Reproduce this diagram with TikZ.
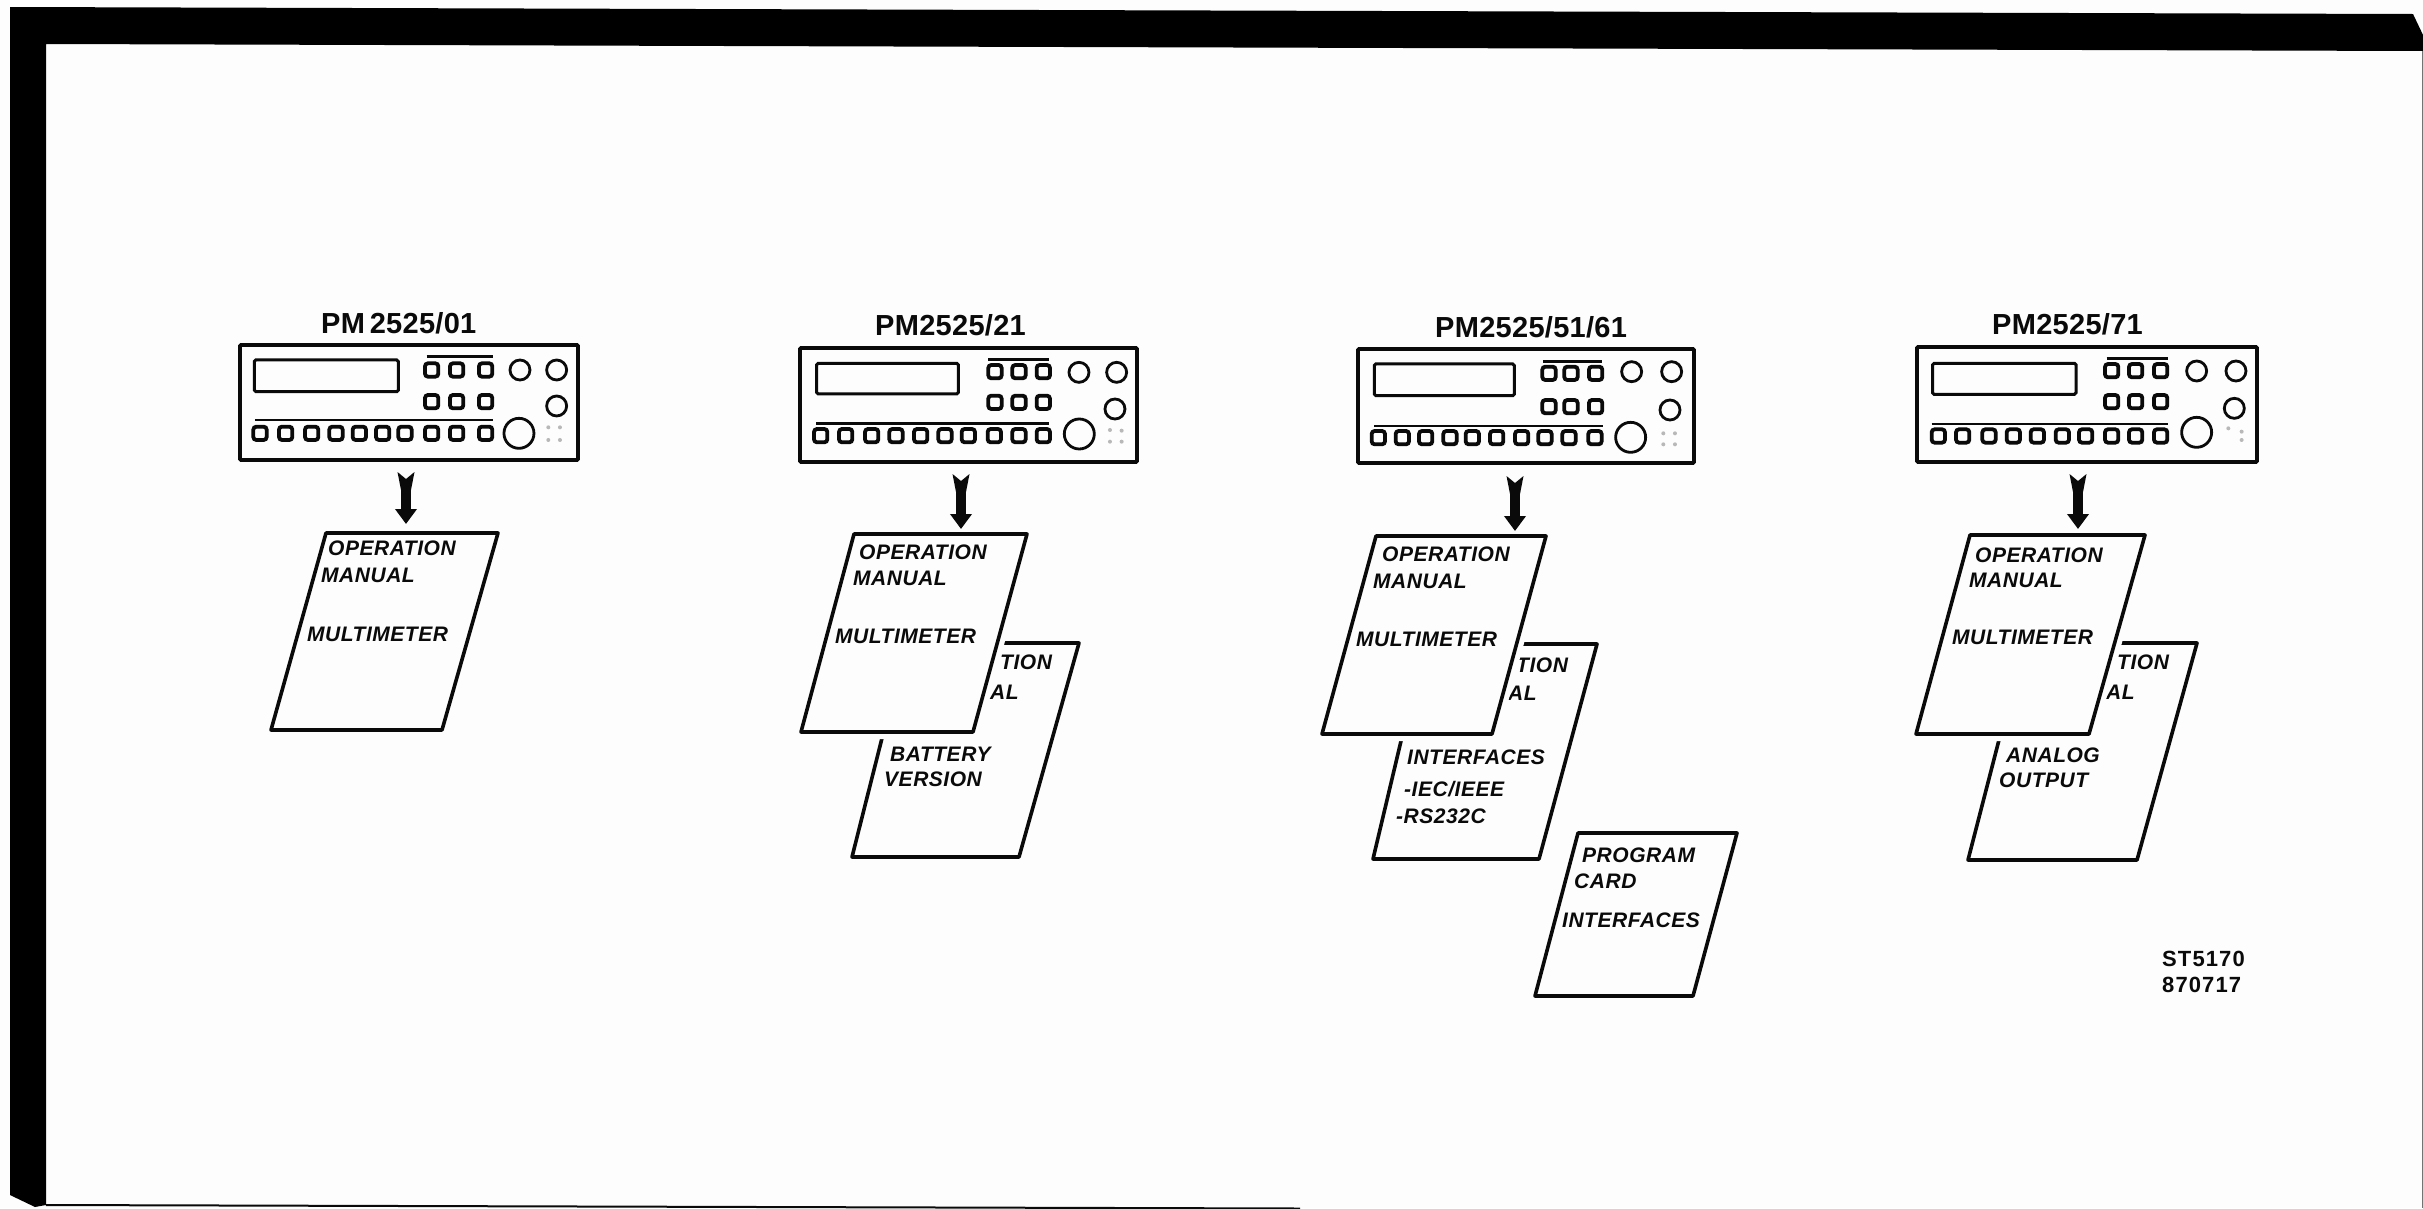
\documentclass[tikz,border=0pt]{standalone}
\usepackage{fontspec}
\usetikzlibrary{arrows.meta}
\setmainfont{Liberation Sans}
\newfontfamily\sheetfont[LetterSpace=2.5]{Liberation Sans}
\newfontfamily\titlefont[LetterSpace=1]{Liberation Sans}
\newfontfamily\codefont[LetterSpace=5]{Liberation Sans}
\definecolor{paper}{HTML}{FDFDFD}
\definecolor{ink}{HTML}{0A0A0A}
\tikzset{
  panelbox/.style={draw=ink,line width=3.6pt,inner sep=0pt,rounded corners=1pt},
  dispbox/.style={draw=ink,line width=3pt,rounded corners=1.5pt},
  pbar/.style={draw=ink,line width=2.4pt},
  pbutton/.style={draw=ink,line width=3.8pt,rounded corners=3pt},
  pknob/.style={draw=ink,line width=2.8pt},
  pdot/.style={fill=black!28},
  backsheet/.style={draw=ink,fill=paper,line width=3.6pt,line join=round},
  frontsheet/.style={draw=ink,fill=paper,line width=3.6pt,line join=round,preaction={draw=paper,line width=14pt}},
  sheettext/.style={anchor=base west,inner sep=0pt,text=ink,font={\sheetfont\fontsize{21}{21}\selectfont\bfseries\itshape}},
  titletext/.style={anchor=base west,inner sep=0pt,text=ink,font={\titlefont\fontsize{29}{29}\selectfont\bfseries}},
  codetext/.style={anchor=base west,inner sep=0pt,text=ink,font={\codefont\fontsize{22}{22}\selectfont\bfseries}},
  arrowshaft/.style={draw=ink,line width=9.5pt,-{Triangle[width=21pt,length=15pt]}},
  arrowtail/.style={fill=ink},
}
% #1 origin x, #2 origin y, #3 display, #4 bar1, #5 top xs, #6 row ys, #7 bar2, #8 bottom xs, #9 bottom y
\newcommand{\panelface}[9]{%
  \begin{scope}[shift={(#1,#2)},x=0.3333pt,y=-0.3333pt]
    \draw[dispbox] #3;
    \draw[pbar] #4;
    \foreach \bx in {#5}{\foreach \by in {#6}{
      \draw[pbutton] (\bx-20,\by-20) rectangle (\bx+20,\by+20);}}
    \draw[pbar] #7;
    \foreach \bx in {#8}{
      \draw[pbutton] (\bx-20,#9-20) rectangle (\bx+20,#9+20);}
  \end{scope}}
\newcommand{\panelknobs}[6]{%
  \begin{scope}[shift={(#1,#2)},x=0.3333pt,y=-0.3333pt]
    \draw[pknob] #3 circle[radius=10pt];
    \draw[pknob] #4 circle[radius=10pt];
    \draw[pknob] #5 circle[radius=10pt];
    \draw[pknob] #6 circle[radius=15pt];
  \end{scope}}
\newcommand{\paneldots}[3]{%
  \begin{scope}[shift={(#1,#2)},x=0.3333pt,y=-0.3333pt]
    \foreach \d in {#3}{\fill[pdot] \d circle[radius=2pt];}
  \end{scope}}
\newcommand{\fatarrow}[3]{% name, x, tail y
  \fill[arrowtail] (#2-8.5,#3) -- (#2,#3+7) -- (#2+8.5,#3) -- (#2+5,#3+18) -- (#2-5,#3+18) -- cycle;
  \draw[arrowshaft] (#1a) -- (#1b);}
\begin{document}
\begin{tikzpicture}[x=1pt,y=-1pt]
\useasboundingbox (0,0) rectangle (2423,1208);
\fill[paper] (0,0) rectangle (2423,1208);
% frame
\fill[black] (10,7) -- (2413,14) -- (2423,35) -- (2423,51) -- (46,44) -- (46,1205) -- (35,1207) -- (10,1195) -- cycle;
\draw[ink,line width=2pt] (46,1205) -- (1300,1208.5);
\draw[black!55,line width=1.2pt] (2422.4,51) -- (2422.4,1208);

% ---------- unit 1
\node[titletext] (t1) at (321,333) {PM\,2525/01};
\node[panelbox,minimum width=338pt,minimum height=115pt] (p1) at (409,402.5) {};
\panelface{220}{290}{(103,210) rectangle (535,305)}{(620,200) -- (820,200)}{635,710,797}{240,335}{(105,390) -- (820,390)}{120,197,275,348,418,488,555,635,710,797}{430}
\panelknobs{220}{290}{(900,240)}{(1010,240)}{(1010,348)}{(897,430)}
\paneldots{220}{290}{(985,412),(1020,412),(985,450),(1020,450)}
\draw[backsheet] (326,533) -- (498,533) -- (442,730) -- (271,730) -- cycle;
\coordinate (m1a) at (406,480);
\coordinate (m1b) at (406,524);
\fatarrow{m1}{406}{472}
\node[sheettext] (m1op) at (328,555) {OPERATION};
\node[sheettext] (m1ma) at (321,582) {MANUAL};
\node[sheettext] (m1mu) at (307,641) {MULTIMETER};

% ---------- unit 2
\node[titletext] (t2) at (875,335) {PM2525/21};
\node[panelbox,minimum width=337pt,minimum height=114pt] (p2) at (968.5,405) {};
\panelface{780}{290}{(110,220) rectangle (535,312)}{(625,208) -- (808,208)}{645,717,790}{245,337}{(108,400) -- (808,400)}{122,197,275,348,422,495,565,643,717,790}{437}
\panelknobs{780}{290}{(897,247)}{(1010,247)}{(1005,357)}{(898,432)}
\paneldots{780}{290}{(990,420),(1025,422),(990,455),(1025,455)}
\draw[backsheet] (906,643) -- (1079,643) -- (1019,857) -- (852,857) -- cycle;
\node[sheettext] (b2ti) at (1000,669) {TION};
\node[sheettext] (b2al) at (990,699) {AL};
\node[sheettext] (b2ba) at (890,761) {BATTERY};
\node[sheettext] (b2ve) at (884,786) {VERSION};
\draw[frontsheet] (854,534) -- (1027,534) -- (973,732) -- (801,732) -- cycle;
\coordinate (m2a) at (961,482);
\coordinate (m2b) at (961,529);
\fatarrow{m2}{961}{474}
\node[sheettext] (m2op) at (859,559) {OPERATION};
\node[sheettext] (m2ma) at (853,585) {MANUAL};
\node[sheettext] (m2mu) at (835,643) {MULTIMETER};

% ---------- unit 3
\node[titletext] (t3) at (1435,337) {PM2525/51/61};
\node[panelbox,minimum width=336pt,minimum height=114pt] (p3) at (1526,406) {};
\panelface{1340}{290}{(103,222) rectangle (523,317)}{(610,215) -- (785,215)}{627,693,767}{250,350}{(103,408) -- (790,408)}{115,187,257,330,397,470,545,615,687,765}{443}
\panelknobs{1340}{290}{(875,245)}{(995,245)}{(990,360)}{(872,442)}
\paneldots{1340}{290}{(970,430),(1005,430),(970,463),(1005,463)}
\draw[backsheet] (1424,644) -- (1597,644) -- (1539,859) -- (1373,859) -- cycle;
\node[sheettext] (b3ti) at (1516,672) {TION};
\node[sheettext] (b3al) at (1508,700) {AL};
\node[sheettext] (b3in) at (1407,764) {INTERFACES};
\node[sheettext] (b3ie) at (1404,796) {-IEC/IEEE};
\node[sheettext] (b3rs) at (1396,823) {-RS232C};
\draw[frontsheet] (1376,536) -- (1546,536) -- (1492,734) -- (1322,734) -- cycle;
\coordinate (m3a) at (1515,484);
\coordinate (m3b) at (1515,531);
\fatarrow{m3}{1515}{476}
\node[sheettext] (m3op) at (1382,561) {OPERATION};
\node[sheettext] (m3ma) at (1373,588) {MANUAL};
\node[sheettext] (m3mu) at (1356,646) {MULTIMETER};
\draw[backsheet] (1578,833) -- (1737,833) -- (1693,996) -- (1535,996) -- cycle;
\node[sheettext] (c3pr) at (1582,862) {PROGRAM};
\node[sheettext] (c3ca) at (1574,888) {CARD};
\node[sheettext] (c3in) at (1562,927) {INTERFACES};

% ---------- unit 4
\node[titletext] (t4) at (1992,334) {PM2525/71};
\node[panelbox,minimum width=340pt,minimum height=115pt] (p4) at (2087,404.5) {};
\panelface{1900}{290}{(98,220) rectangle (528,313)}{(620,205) -- (803,205)}{635,707,782}{242,335}{(95,402) -- (803,402)}{115,188,267,340,412,487,557,635,707,782}{438}
\panelknobs{1900}{290}{(890,243)}{(1008,243)}{(1003,355)}{(890,427)}
\paneldots{1900}{290}{(985,415),(1025,425),(1025,450)}
\draw[backsheet] (2024,643) -- (2197,643) -- (2137,860) -- (1968,860) -- cycle;
\node[sheettext] (b4ti) at (2117,669) {TION};
\node[sheettext] (b4al) at (2106,699) {AL};
\node[sheettext] (b4an) at (2006,762) {ANALOG};
\node[sheettext] (b4ou) at (1999,787) {OUTPUT};
\draw[frontsheet] (1970,535) -- (2145,535) -- (2089,734) -- (1916,734) -- cycle;
\coordinate (m4a) at (2078,482);
\coordinate (m4b) at (2078,529);
\fatarrow{m4}{2078}{474}
\node[sheettext] (m4op) at (1975,562) {OPERATION};
\node[sheettext] (m4ma) at (1969,587) {MANUAL};
\node[sheettext] (m4mu) at (1952,644) {MULTIMETER};

% drawing code
\node[codetext] (c1) at (2162,966) {ST5170};
\node[codetext] (c2) at (2162,992) {870717};
\end{tikzpicture}
\end{document}
